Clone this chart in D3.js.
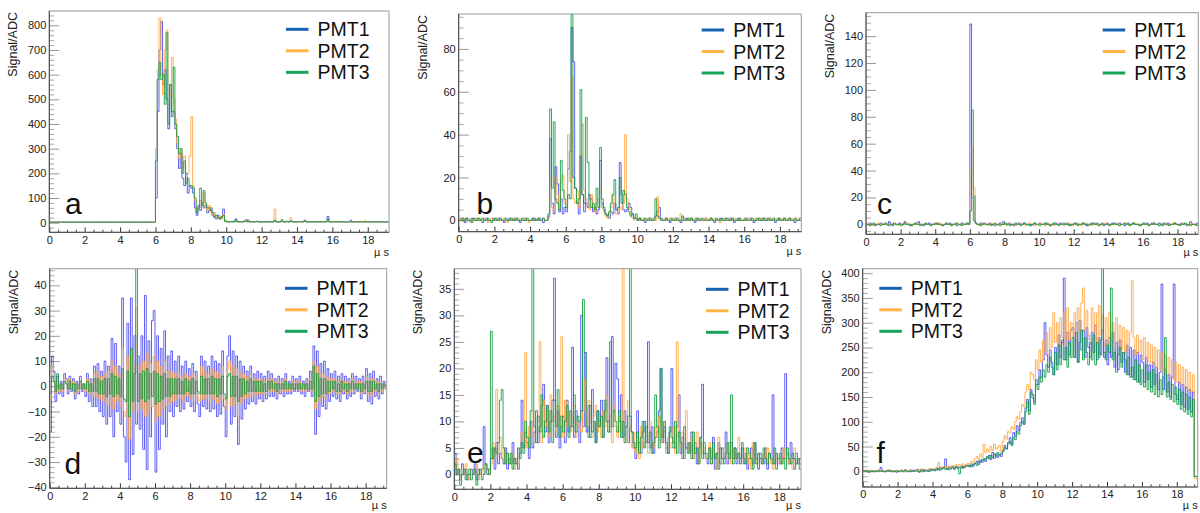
<!DOCTYPE html>
<meta charset="utf-8">
<title>PMT waveforms</title>
<style>
  html, body { margin: 0; padding: 0; background: #fff; }
  svg { display: block; font-family: 'Liberation Sans', Arial, sans-serif; }
  .tick text { font-size: 11px; fill: #222; }
  .trace { fill: none; stroke-width: 1px; }
</style>
<svg id="chart" width="1200" height="513"></svg>
<script src="https://cdn.jsdelivr.net/npm/d3@7"></script>
<script>
  'use strict'
  // Waveforms, one value per 0.1 us bin (0 .. 19.2 us).
  const binWidth = 0.1
  const seriesNames = ['PMT1', 'PMT2', 'PMT3']

  const aPmt1 = [
    2,2,2,3,2,2,2,2,3,2, 2,2,2,2,2,3,2,2,2,2, 2,2,3,2,2,2,2,2,2,2,
    2,2,2,2,3,2,2,2,2,2, 2,2,2,2,2,2,3,2,2,2, 2,2,2,2,2,2,2,3,2,2,
    100,450,700,815,560,620,500,380,560,430, 450,380,300,220,280,180,150,200,120,150,
    140,120,60,30,70,50,80,60,70,40, 50,60,30,20,15,30,15,20,55,10,
    5,3,4,3,6,15,4,3,5,3, 8,12,4,3,5,3,4,6,3,3, 3,4,3,5,3,4,3,10,3,3,
    4,6,3,3,4,3,8,3,3,4, 3,5,3,4,10,3,3,4,3,3, 3,4,3,5,3,4,3,25,3,3,
    4,3,3,5,3,3,4,3,3,4, 10,3,3,4,3,3,5,3,3,3, 4,3,3,3,5,3,3,4,3,3, 3,3]
  const aPmt2 = [
    2,2,3,2,2,2,2,2,2,3, 2,2,2,2,2,2,2,3,2,2, 2,3,2,2,2,2,2,2,3,2,
    2,2,2,2,2,2,2,2,2,3, 2,2,2,3,2,2,2,2,2,2, 2,2,3,2,2,2,2,2,2,2,
    300,620,830,600,520,700,780,480,520,670, 500,420,320,260,300,220,270,180,200,270,
    430,150,90,50,60,90,70,120,60,50, 70,40,30,40,20,25,20,15,35,8,
    4,3,5,3,4,8,3,3,4,3, 6,8,3,4,3,3,5,3,3,3, 3,3,4,3,3,5,3,55,4,3,
    3,5,3,3,4,3,20,5,3,3, 3,4,3,6,8,4,3,3,4,3, 3,3,5,3,4,3,4,8,3,3,
    3,4,3,3,3,5,3,3,3,4, 3,3,4,3,3,3,3,4,8,3, 3,3,3,4,3,3,3,3,3,3, 3,3]
  const aPmt3 = [
    2,2,2,2,2,3,2,2,2,2, 2,2,3,2,2,2,2,2,2,2, 3,2,2,2,2,2,2,3,2,2,
    2,2,2,3,2,2,2,2,2,2, 2,3,2,2,2,2,2,2,2,3, 2,2,2,2,3,2,2,2,2,2,
    250,580,650,580,600,480,770,400,560,450, 630,400,350,280,300,200,250,160,180,150,
    150,140,100,40,60,140,70,130,80,60, 60,50,40,25,30,20,15,25,30,5,
    3,3,4,5,3,10,3,4,3,3, 5,3,10,3,4,3,3,5,3,3, 3,3,3,3,4,3,3,8,3,3,
    3,12,3,3,6,3,5,3,3,3, 3,4,3,3,8,3,3,3,4,3, 3,3,4,3,3,3,4,15,3,3,
    3,3,3,4,3,3,3,3,3,3, 3,3,3,3,3,4,3,3,3,3, 3,3,3,3,3,3,3,3,3,3, 3,3]

  const bPmt1 = [
    0,1,0,-1,1,0,0,1,0,0, 1,0,0,-1,0,1,0,0,0,1, 0,0,1,0,0,-1,0,0,1,0,
    0,1,0,0,-1,0,0,1,0,0, 0,0,1,0,0,1,0,-1,0,0,
    2,38,8,3,25,17,4,10,3,6, 4,24,32,90,74,15,8,3,30,12,
    4,8,6,12,10,4,6,3,5,28, 8,5,3,2,1,4,3,8,5,3, 27,12,5,4,5,8,6,3,1,1,
    0,1,0,0,-1,0,1,0,0,1, 2,4,6,1,0,0,1,0,-1,0, 0,1,0,0,-1,0,0,1,0,0,
    1,0,-1,0,1,0,0,0,1,0, 0,1,0,-1,0,0,1,0,0,1, 0,0,1,0,-1,0,1,0,0,0,
    1,0,0,1,0,-1,0,0,1,0, 0,1,0,0,1,0,0,-1,0,1, 0,0,1,0,0,1,0,0,-1,0, 0,1]
  const bPmt2 = [
    1,0,1,0,0,1,-1,0,0,1, 0,1,0,0,1,0,-1,0,1,0, 0,1,0,0,0,1,0,-1,0,0,
    1,0,0,1,0,0,1,0,0,-1, 0,1,0,0,1,0,0,1,0,0,
    1,20,6,4,20,12,5,18,21,8, 6,40,18,67,10,8,14,6,30,45,
    14,10,8,5,12,6,4,8,10,15, 6,4,2,1,3,6,12,8,3,4, 6,5,8,40,10,6,3,1,0,1,
    1,0,0,1,0,0,1,0,0,1, 0,11,1,0,0,1,0,0,1,0, 0,1,0,0,3,0,1,0,0,1,
    0,0,1,0,0,1,0,0,1,0, 1,0,0,1,0,0,-1,0,1,0, 0,1,0,0,1,0,0,1,0,0,
    1,0,0,1,0,0,1,0,0,1, 0,0,1,0,1,0,0,1,0,0, 1,0,0,1,0,0,1,0,0,1, 0,0]
  const bPmt3 = [
    0,0,1,0,1,0,0,-1,1,0, 0,1,0,1,0,0,1,0,-1,0, 1,0,0,1,0,0,1,0,0,1,
    0,0,1,0,0,1,0,0,1,0, 0,1,0,0,1,0,0,1,0,0,
    3,52,15,46,10,8,5,28,14,10, 6,12,10,96,20,15,8,10,61,12,
    8,48,27,10,6,8,5,15,6,34, 10,6,3,2,4,8,12,19,5,6, 20,8,14,12,6,4,2,3,1,3,
    0,1,0,0,1,0,0,1,0,0, 10,2,1,0,0,0,1,0,0,1, 0,0,1,0,0,2,0,0,1,0,
    1,0,0,1,0,0,1,0,0,0, 0,1,0,0,1,0,0,1,0,0, 1,0,0,1,0,0,0,1,0,0,
    0,1,0,0,1,0,0,1,0,0, 1,0,0,1,0,0,1,0,0,1, 0,0,1,0,0,1,0,0,1,0, 0,0]

  const cPmt1 = [
    0,0,1,0,0,-1,0,0,1,0, 0,0,0,2,0,-1,0,0,0,1, 0,0,2,0,0,-1,0,0,0,1,
    2,0,0,-1,0,0,1,0,0,0, 0,1,0,0,-1,0,0,0,1,0, 0,0,-1,0,0,1,0,0,0,1,
    149,20,3,1,0,0,1,0,0,0, 0,1,0,0,-1,0,0,1,0,2, 0,0,1,0,0,-1,0,0,1,0,
    0,1,0,0,0,-1,0,1,0,0, 1,0,0,0,1,0,-1,0,0,1, 0,0,1,0,0,0,1,0,-1,0,
    0,1,0,0,0,1,0,-1,0,0, 1,0,0,1,0,0,0,-1,0,1, 0,0,1,0,0,0,1,0,0,-1,
    0,1,0,0,1,0,0,0,-1,0, 0,0,1,0,0,1,0,0,0,1, 0,-1,0,0,1,0,0,0,1,0,
    0,0,1,0,0,-1,0,2,0,0, 0,1]
  const cPmt2 = [
    0,1,0,0,-1,0,0,1,0,0, 1,0,-1,0,0,1,0,0,-1,0, 0,1,0,0,1,0,-1,0,0,1,
    0,0,-1,0,1,0,0,-1,0,1, 0,0,1,-1,0,0,1,0,0,-1, 0,1,0,0,-1,0,0,1,0,0,
    40,57,27,1,0,-1,0,1,0,0, -1,0,1,0,0,-1,0,0,1,0, 0,-1,0,1,0,0,-1,0,0,1,
    0,0,-1,0,1,0,0,-1,0,0, 1,0,0,-1,0,1,0,0,-1,0, 0,1,0,0,-1,0,0,1,0,-1,
    0,0,1,0,-1,0,0,1,0,0, -1,0,1,0,0,-1,0,0,1,0, 0,-1,0,0,1,0,-1,0,0,1,
    0,0,-1,0,0,1,0,-1,0,0, 1,0,0,-1,0,0,1,0,0,-1, 0,1,0,0,-1,0,0,1,0,0,
    -1,0,0,1,0,0,-1,0,1,0, -1,0]
  const cPmt3 = [
    0,0,-1,0,1,0,0,0,-1,0, 0,1,0,-1,0,0,1,0,0,0, -1,0,1,0,0,0,-1,0,1,0,
    0,-1,0,0,1,0,0,-1,0,0, 1,0,0,0,-1,0,1,0,0,-1, 0,0,1,0,0,-1,0,0,1,0,
    10,85,21,1,0,0,-1,0,1,0, 0,0,-1,0,1,0,0,-1,0,0, 1,0,0,-1,0,0,1,0,0,-1,
    0,1,0,0,-1,0,0,1,0,0, -1,0,0,1,0,0,-1,0,1,0, 0,-1,0,0,1,0,0,-1,0,0,
    1,0,-1,0,0,1,0,0,-1,0, 0,1,0,0,-1,0,1,0,0,0, -1,0,0,1,0,0,-1,0,0,1,
    0,0,-1,0,1,0,0,0,-1,0, 1,0,0,-1,0,0,1,0,0,-1, 0,0,1,0,0,-1,0,0,1,0,
    0,-1,0,0,1,0,0,-1,0,0, 0,-1]

  const dPmt1 = [
    -18,12,6,-6,4,-3,2,-4,5,3, -3,4,-2,3,-5,2,-3,4,-2,1, -4,5,-6,3,-8,8,-8,9,-10,6,
    -12,10,-15,8,-12,19,-20,17,-10,8, -15,35,-20,-30,25,-37,35,-27,20,-15,
    12,-17,20,-25,36,-33,18,-20,26,30, -34,20,-25,15,-15,22,-20,12,-10,14,
    -12,10,-8,12,-10,8,-9,10,-6,7, -8,9,-10,6,-7,-12,12,-8,10,-9,
    8,-10,12,-9,10,-12,9,-11,14,-8, -20,12,20,-15,14,-12,12,-23,10,-13,
    8,-9,6,-7,8,-6,5,-7,6,-5, 5,-6,4,-5,6,-4,5,-4,3,-5, 4,-3,3,-4,5,-3,2,-3,4,-2,
    3,-2,4,-3,2,-4,3,-2,6,-4, 16,-19,14,-12,9,-8,10,-9,7,-6, 5,-4,6,-5,4,-6,5,-3,4,-5,
    3,-4,5,-3,4,-2,3,-5,4,-3, 7,-6,5,-7,6,-4,3,-5,4,-3, 2,-1]
  const dPmt2 = [
    -5,8,3,-3,2,-2,1,-2,3,2, -2,3,-1,2,-3,1,-2,2,-1,1, -2,3,-3,2,-4,5,-4,6,-5,4,
    -6,5,-8,6,-7,10,-9,8,-6,5, -8,15,-10,-12,12,-21,14,-10,8,31,
    -10,8,-9,10,-12,13,-10,9,-8,12, -14,10,-12,8,-9,10,-8,6,-7,6,
    -6,5,-5,6,-5,4,-6,5,-4,4, -5,5,-6,4,-4,-6,8,-5,6,-5,
    5,-6,7,-5,6,-7,5,-6,8,-5, -9,7,10,-8,8,-7,7,-12,6,-7,
    5,-5,4,-4,5,-4,3,-4,3,-3, 3,-3,2,-3,3,-2,3,-2,2,-3, 2,-2,2,-2,3,-2,1,-2,2,-1,
    2,-1,2,-2,1,-2,2,-1,3,-2, 10,-9,8,-6,5,-4,5,-5,4,-3, 3,-2,3,-3,2,-3,3,-2,2,-3,
    2,-2,3,-2,2,-1,2,-3,2,-2, 4,-3,3,-4,3,-2,2,-3,2,-2, 1,-1]
  const dPmt3 = [
    -3,4,2,-2,5,-1,1,-1,2,1, -1,2,-1,1,-2,1,-1,2,-1,1, -1,2,-2,1,-2,3,-2,3,-3,2,
    -3,3,-4,3,-3,5,-4,4,-3,3, -4,7,-5,-6,6,-12,15,-6,5,47,
    -6,5,-5,6,-6,7,-5,5,-4,6, -7,5,-6,4,-5,5,-4,3,-4,3,
    -3,3,-3,3,-3,2,-3,3,-2,2, -3,3,-3,2,-2,-3,4,-3,3,-3,
    3,-3,4,-3,3,-4,3,-3,4,-3, -5,4,5,-4,4,-4,4,-6,3,-4,
    3,-3,2,-2,3,-2,2,-2,2,-2, 2,-2,1,-2,2,-1,2,-1,1,-2, 1,-1,1,-1,2,-1,1,-1,1,-1,
    1,-1,1,-1,1,-1,1,-1,2,-1, 8,-6,5,-4,3,-3,3,-3,2,-2, 2,-1,2,-2,1,-2,2,-1,1,-2,
    1,-1,2,-1,1,-1,1,-2,1,-1, 2,-2,2,-2,2,-1,1,-2,1,-1, 1,0]

  const ePmt1 = [
    4,0,1,-1,2,0,1,-1,0,1, 0,2,-1,1,0,1,9,2,0,1, 3,5,1,6,2,4,3,2,5,1,
    3,2,6,2,3,1,4,14,5,8, 6,3,10,5,8,12,6,9,13,17, 8,13,6,10,14,37,7,12,5,9,
    11,6,14,8,9,24,7,12,10,6, 30,9,23,8,13,7,16,10,6,12, 9,14,7,12,22,10,8,26,12,21,
    18,10,15,7,12,9,6,11,8,5, 3,12,6,4,8,10,6,25,5,9, 4,7,8,12,20,6,9,5,4,8,
    20,6,5,9,15,4,7,3,5,6, 4,8,3,6,2,5,7,17,4,3, 2,5,3,7,1,4,6,2,5,3,
    8,2,4,6,3,5,2,4,3,5, 2,4,1,3,5,2,6,3,1,4, 3,2,5,1,4,3,15,2,4,3,
    2,5,3,19,4,2,6,3,1,4, 2,3]
  const ePmt2 = [
    1,3,0,-1,1,0,2,0,-1,1, 1,0,2,-1,0,1,0,2,1,0, 2,6,3,16,4,7,3,5,2,4,
    3,2,4,1,3,2,5,8,6,23, 5,9,7,12,6,8,10,25,6,14, 9,12,7,15,10,11,8,13,9,26,
    7,14,9,12,8,11,13,7,10,9, 8,12,18,9,14,10,7,11,13,8, 10,7,12,9,15,8,11,6,13,9,
    7,11,8,45,10,6,14,9,5,8, 4,7,3,9,5,6,8,4,10,6, 5,9,7,11,6,10,8,4,7,5,
    6,9,4,25,7,5,8,3,12,6, 4,7,3,5,8,2,6,4,5,3, 3,6,2,5,4,1,7,3,2,5,
    4,3,6,2,5,3,4,7,2,3, 3,5,2,4,1,6,3,2,4,3, 2,4,3,5,2,3,1,4,3,2,
    3,2,5,3,4,2,3,1,5,2, 3,2]
  const ePmt3 = [
    2,0,1,-2,0,1,-1,0,1,-1, 0,1,-2,0,1,-1,0,2,1,0, 27,3,5,4,6,14,16,5,2,4,
    2,4,1,3,2,5,3,6,4,10, 7,5,12,45,9,6,11,8,15,7, 10,13,8,12,6,14,9,16,7,11,
    8,10,13,7,12,9,15,8,11,10, 12,33,23,9,7,13,8,10,6,12, 9,11,7,14,10,8,25,9,12,10,
    8,12,7,10,6,9,11,45,8,6, 5,8,4,7,10,5,9,6,8,4, 6,15,9,5,20,7,10,6,4,9,
    7,5,10,4,8,6,3,9,5,4, 6,3,8,4,5,2,7,3,6,4, 3,5,2,6,3,4,1,5,3,2,
    4,6,3,15,2,5,3,4,2,6, 3,2,5,4,3,1,6,2,4,3, 2,5,3,2,4,3,2,5,1,3,
    4,2,3,1,5,3,2,4,3,2, 3,1]

  const fPmt1 = [
    2,0,1,-2,1,0,-1,1,0,2, 8,0,-1,1,0,2,-1,0,1,-2, 1,0,2,-1,3,0,1,-1,2,0,
    1,4,0,2,-1,3,1,0,5,2, 4,1,6,3,8,5,7,25,4,8, 6,9,5,10,7,8,11,6,9,12,
    12,9,15,11,16,20,14,22,18,25, 20,28,32,24,38,26,35,28,34,30,
    42,52,45,58,68,55,78,70,92,82, 98,108,95,128,145,122,165,155,140,185,
    175,205,190,225,300,235,210,245,220,195, 250,215,275,230,260,390,225,280,235,285,
    290,230,300,220,305,245,285,230,290,250, 230,280,240,295,225,270,235,285,230,265,
    215,270,230,280,210,260,205,265,220,240, 200,255,195,250,190,245,185,240,180,235,
    220,180,230,185,215,170,220,175,210,165, 200,378,165,205,160,195,150,190,378,155,
    145,180,135,175,130,170,125,165,120,160, -10,-10]
  const fPmt2 = [
    3,1,0,2,-1,1,2,0,1,-1, 1,2,0,-1,1,3,0,1,-1,2, 0,1,3,0,2,-1,1,4,0,2,
    2,0,3,5,1,4,2,3,6,4, 5,3,8,18,6,9,5,10,7,11, 9,12,8,14,10,13,9,15,11,14,
    16,13,20,18,25,30,22,35,28,55, 38,45,40,50,42,55,45,48,52,40,
    60,72,65,80,78,90,85,100,110,105, 120,135,130,160,175,165,200,195,185,225,
    205,245,220,265,240,280,235,290,250,320, 260,300,250,310,270,320,255,330,265,300,
    270,320,265,330,280,340,370,285,325,275, 265,330,280,320,260,335,275,315,255,310,
    255,320,265,300,250,310,260,295,245,290, 240,285,250,280,385,270,235,275,240,265,
    225,270,230,260,220,255,215,250,210,245, 205,240,200,235,195,230,190,225,185,220,
    180,215,175,210,170,205,165,200,160,195, -15,-15]
  const fPmt3 = [
    1,0,2,-1,0,1,0,-1,1,0, 0,1,-1,0,2,0,1,-1,0,1, 0,-1,1,0,2,-1,0,1,0,2,
    1,0,-2,1,3,0,2,1,0,3, 2,4,3,6,2,5,8,4,6,3, 5,8,4,9,6,-5,7,10,8,11,
    10,12,9,14,16,12,20,18,24,22, 26,30,25,32,28,35,30,38,33,36,
    40,48,45,55,60,52,68,64,80,75, 92,100,95,120,140,115,160,148,135,175,
    165,190,180,205,190,215,200,230,210,195, 240,205,255,215,265,225,250,210,260,230,
    270,230,280,220,260,285,225,270,240,215, 260,225,275,215,260,230,265,410,240,225,
    255,240,370,225,240,200,235,250,210,240, 225,195,230,190,210,185,225,180,215,175,
    205,170,215,165,200,160,205,155,195,150, 185,155,190,270,150,180,145,175,140,170,
    135,165,125,160,120,155,115,150,110,145, -11,-11]

  const xMajorTicks = [0, 2, 4, 6, 8, 10, 12, 14, 16, 18]
  const xMax = 19.2

  // Layout of each pad: frame [left, top, right, bottom] in px, y range, tick steps.
  const panels = [
    { tag: 'a', data: [aPmt1, aPmt2, aPmt3], frame: [49.3, 11, 389, 232.3], y: [-39, 858],
      major: 100, minor: 20, legend: [286, 29.3], tagPos: [65, 214], unitDy: 23.5 },
    { tag: 'b', data: [bPmt1, bPmt2, bPmt3], frame: [458.7, 14, 801.3, 231.7], y: [-5.3, 96.3],
      major: 20, minor: 5, legend: [701.7, 30], tagPos: [476.5, 214], unitDy: 23.5 },
    { tag: 'c', data: [cPmt1, cPmt2, cPmt3], frame: [866, 12.7, 1198.3, 234.3], y: [-7.4, 157.4],
      major: 20, minor: 5, legend: [1102.7, 30], tagPos: [877, 214], unitDy: 22 },
    { tag: 'd', data: [dPmt1, dPmt2, dPmt3], frame: [49.7, 268.7, 386.7, 488.3], y: [-40.4, 46.6],
      major: 10, minor: 2, legend: [285, 288.3], tagPos: [64.5, 474.3], unitDy: 20.5 },
    { tag: 'e', data: [ePmt1, ePmt2, ePmt3], frame: [454.3, 268.7, 801, 489.3], y: [-2.8, 38.8],
      major: 5, minor: 1, legend: [706, 289.3], tagPos: [467, 463.3], unitDy: 19.5 },
    { tag: 'f', data: [fPmt1, fPmt2, fPmt3], frame: [862.7, 268.7, 1197.7, 487], y: [-31.7, 409],
      major: 50, minor: 10, legend: [879.3, 288.3], tagPos: [876.5, 462.7], unitDy: 21.5 },
  ]

  const traceColors = ['#3a3af2', '#ffa53c', '#0b9a3c']
  const traceOpacity = [0.8, 0.85, 0.85]
  const legendColors = ['#1762b3', '#ffb54a', '#16a35c']

  const svg = d3.select('#chart')

  panels.forEach((p, k) => {
    const [left, top, right, bottom] = p.frame
    const x = d3.scaleLinear().domain([0, xMax]).range([left, right])
    const y = d3.scaleLinear().domain(p.y).range([bottom, top])
    const g = svg.append('g')

    // clip
    svg.append('clipPath').attr('id', 'clip' + k)
      .append('rect').attr('x', left).attr('y', top)
      .attr('width', right - left).attr('height', bottom - top)

    // y ticks (inside frame, ROOT style)
    const inDomain = v => v >= p.y[0] - 1e-9 && v <= p.y[1] + 1e-9
    const yMajor = d3.range(Math.ceil(p.y[0] / p.major) * p.major, p.y[1], p.major).filter(inDomain)
    const yMinor = d3.range(Math.ceil(p.y[0] / p.minor) * p.minor, p.y[1], p.minor)
      .filter(v => inDomain(v) && Math.abs(v / p.major - Math.round(v / p.major)) > 1e-6)

    g.append('g').attr('transform', `translate(${left},0)`)
      .call(d3.axisLeft(y).tickValues(yMinor).tickSize(-5).tickFormat(''))
      .call(s => s.select('.domain').remove())
      .call(s => s.selectAll('line').attr('stroke', '#aaa'))
    g.append('g').attr('transform', `translate(${left},0)`)
      .call(d3.axisLeft(y).tickValues(yMajor).tickSize(-10).tickPadding(3).tickFormat(d3.format('d')))
      .call(s => s.select('.domain').remove())
      .call(s => s.selectAll('line').attr('stroke', '#999'))
      .call(s => s.selectAll('text').attr('font-size', 11))

    // x ticks
    const xMinor = d3.range(0, 19.01, 0.5).filter(v => v % 2 !== 0)
    g.append('g').attr('transform', `translate(0,${bottom})`)
      .call(d3.axisBottom(x).tickValues(xMinor).tickSize(-2.7).tickFormat(''))
      .call(s => s.select('.domain').remove())
      .call(s => s.selectAll('line').attr('stroke', '#444'))
    g.append('g').attr('transform', `translate(0,${bottom})`)
      .call(d3.axisBottom(x).tickValues(xMajorTicks).tickSize(-5).tickPadding(3.5).tickFormat(d3.format('d')))
      .call(s => s.select('.domain').remove())
      .call(s => s.selectAll('line').attr('stroke', '#333'))
      .call(s => s.selectAll('text').attr('font-size', 11))

    // traces as step histograms
    const line = d3.line().x(d => x(d[0])).y(d => y(d[1])).curve(d3.curveStepAfter)
    const traces = g.append('g').attr('clip-path', `url(#clip${k})`)
    p.data.forEach((vals, s) => {
      const pts = vals.map((v, i) => [i * binWidth, v])
      pts.push([vals.length * binWidth, vals[vals.length - 1]])
      traces.append('path').attr('class', 'trace')
        .attr('d', line(pts))
        .attr('stroke', traceColors[s])
        .attr('stroke-opacity', traceOpacity[s])
    })

    // frame
    g.append('rect').attr('x', left).attr('y', top)
      .attr('width', right - left).attr('height', bottom - top)
      .attr('fill', 'none').attr('stroke', '#999').attr('stroke-width', 1)
    g.append('path').attr('d', `M${left},${top}V${bottom}H${right}`)
      .attr('fill', 'none').attr('stroke', '#444').attr('stroke-width', 1)

    // axis titles
    g.append('text').attr('transform', `translate(${left - 32},${top + 1}) rotate(-90)`)
      .attr('text-anchor', 'end').attr('font-size', 12.5).attr('fill', '#222')
      .text('Signal/ADC')
    g.append('text').attr('x', right).attr('y', bottom + p.unitDy)
      .attr('text-anchor', 'end').attr('font-size', 11).attr('fill', '#222')
      .text('\u00b5 s')

    // legend
    const [lx, ly] = p.legend
    seriesNames.forEach((name, s) => {
      const yy = ly + s * 21.5
      g.append('line').attr('x1', lx).attr('x2', lx + 22.5).attr('y1', yy).attr('y2', yy)
        .attr('stroke', legendColors[s]).attr('stroke-width', 3)
      g.append('text').attr('x', lx + 31.5).attr('y', yy).attr('dy', '0.36em')
        .attr('font-size', 19.5).attr('fill', '#111').text(name)
    })

    // pad tag
    g.append('text').attr('x', p.tagPos[0]).attr('y', p.tagPos[1])
      .attr('font-size', 30).attr('fill', '#111').text(p.tag)
  })
</script>
